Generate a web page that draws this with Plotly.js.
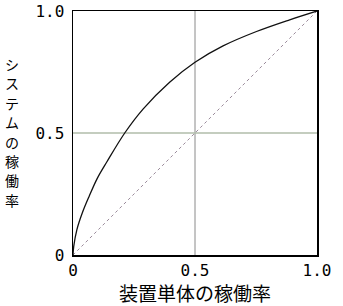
<!DOCTYPE html>
<html>
<head>
<meta charset="utf-8">
<script src="https://cdn.plot.ly/plotly-3.0.1.min.js"></script>
<style>html,body{margin:0;padding:0;background:#fff;}#chart{width:343px;height:306px;}</style>
</head>
<body>
<div id="chart"></div>
<script>
// Unit availability (x) vs system availability (y)
var unitRate = [0, 0.003, 0.016, 0.038, 0.066, 0.1, 0.139, 0.212, 0.287, 0.396, 0.5, 0.615, 0.752, 0.888, 1.0];
var systemRate = [0, 0.035, 0.104, 0.172, 0.24, 0.315, 0.382, 0.5, 0.598, 0.708, 0.79, 0.857, 0.916, 0.964, 1.0];
var diagX = [0, 1];
var diagY = [0, 1];
var halfLevel = 0.5;
var tickVals = [0, 0.5, 1.0];
var tickText = ['0', '0.5', '1.0'];
var xTitle = '装置単体の稼働率';
var yTitle = 'システムの稼働率';

var traces = [
  {x: [halfLevel, halfLevel], y: [0, 1], mode: 'lines', line: {color: '#8a8a8a', width: 1}, hoverinfo: 'skip'},
  {x: [0, 1], y: [halfLevel, halfLevel], mode: 'lines', line: {color: '#b0bcaa', width: 1.5}, hoverinfo: 'skip'},
  {x: diagX, y: diagY, mode: 'lines', line: {color: '#9a8a9a', width: 1, dash: 'dot'}, hoverinfo: 'skip'},
  {x: unitRate, y: systemRate, mode: 'lines', line: {color: '#111', width: 1.3, shape: 'spline', smoothing: 1}}
];

// vertical (stacked) y-axis title, one annotation per character
var chars = yTitle.split('');
var annotations = chars.map(function (ch, i) {
  var py = 64 + 19.4 * i;           // pixel centre from top
  return {
    text: ch, xref: 'paper', yref: 'paper',
    x: (12 - 73) / 244, y: (255 - py) / 244,
    xanchor: 'center', yanchor: 'middle', showarrow: false, borderpad: 0,
    font: {family: 'Noto Sans CJK JP', size: 14, color: '#000'}
  };
});

var tickFont = {family: 'DejaVu Sans Mono, monospace', size: 16, color: '#000'};
var layout = {
  width: 343, height: 306,
  margin: {l: 73, r: 26, t: 11, b: 51},
  paper_bgcolor: '#fff', plot_bgcolor: '#fff',
  showlegend: false,
  xaxis: {range: [0, 1], tickvals: tickVals, ticktext: tickText, showgrid: false, zeroline: false,
          showline: true, mirror: true, linecolor: '#000', linewidth: 1.5, ticks: '', tickfont: tickFont,
          title: {text: xTitle, font: {family: 'Noto Sans CJK JP', size: 19, color: '#000'}, standoff: 3}},
  yaxis: {range: [0, 1], tickvals: tickVals, ticktext: tickText, showgrid: false, zeroline: false,
          showline: true, mirror: true, linecolor: '#000', linewidth: 1.5, ticks: '', tickfont: tickFont, ticklabelstandoff: 4},
  annotations: annotations
};
Plotly.newPlot('chart', traces, layout, {staticPlot: true, displayModeBar: false});
</script>
</body>
</html>
